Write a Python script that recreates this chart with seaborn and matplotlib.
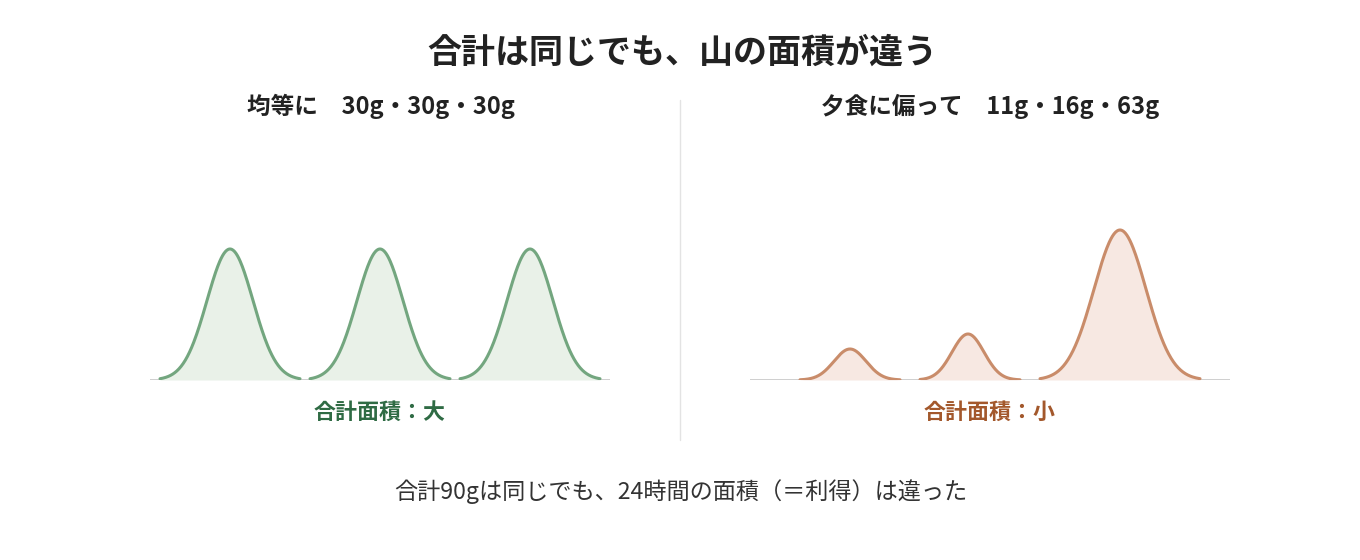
import numpy as np
import pandas as pd
import matplotlib
matplotlib.use("Agg")
import matplotlib.pyplot as plt
import seaborn as sns

sns.set_theme(style="white")
plt.rcParams['font.family'] = ['Noto Sans CJK JP', 'DejaVu Sans']

# data
left_grams = [30, 30, 30]
left_centers = [80, 230, 380]      # position within panel (px units)
left_heights = [131, 131, 131]
left_sigmas = [23, 23, 23]
left_spans = [(10, 150), (160, 300), (310, 450)]

right_grams = [11, 16, 63]
right_centers = [100, 218, 370]
right_heights = [31, 46, 150]
right_sigmas = [16, 16, 26]
right_spans = [(50, 150), (170, 270), (290, 450)]

W, H = 1360, 560
fig = plt.figure(figsize=(13.6, 5.6), dpi=100)

def panel(x0, width, centers, heights, sigmas, spans, lc, fc):
    ax = fig.add_axes([x0 / W, (H - 380) / H, width / W, 200 / H])
    for c, h, s, (a, b) in zip(centers, heights, sigmas, spans):
        x = np.linspace(a, b, 200)
        y = h * np.exp(-0.5 * ((x - c) / s) ** 2)
        df = pd.DataFrame({"x": x, "y": y})
        ax.fill_between(x, 0, y, color=fc, lw=0)
        sns.lineplot(data=df, x="x", y="y", ax=ax, color=lc, lw=2.2, sort=False)
    ax.axhline(0, color="#cccccc", lw=1.3, zorder=0)
    ax.set_xlim(0, width)
    ax.set_ylim(0, 200)
    ax.axis("off")
    return ax

panel(150, 460, left_centers, left_heights, left_sigmas, left_spans, "#73a67f", "#e9f1e8")
panel(750, 480, right_centers, right_heights, right_sigmas, right_spans, "#c98c6a", "#f7e8e2")

fig.add_artist(plt.Line2D([680 / W, 680 / W], [1 - 100 / H, 1 - 440 / H], color="#e3e3e3", lw=1))

fig.text(682 / W, 1 - 52 / H, "合計は同じでも、山の面積が違う", ha="center", va="center",
         fontsize=24.5, fontweight="bold", color="#222222")
fig.text(381 / W, 1 - 106 / H, "均等に　" + "g・".join(str(g) for g in left_grams) + "g",
         ha="center", va="center", fontsize=17, fontweight="bold", color="#222222")
fig.text(990 / W, 1 - 106 / H, "夕食に偏って　" + "g・".join(str(g) for g in right_grams) + "g",
         ha="center", va="center", fontsize=17, fontweight="bold", color="#222222")
fig.text(380 / W, 1 - 412 / H, "合計面積：大", ha="center", va="center",
         fontsize=15.8, fontweight="bold", color="#2f6b44")
fig.text(990 / W, 1 - 412 / H, "合計面積：小", ha="center", va="center",
         fontsize=15.8, fontweight="bold", color="#a3582c")
fig.text(681 / W, 1 - 492 / H, "合計90gは同じでも、24時間の面積（＝利得）は違った",
         ha="center", va="center", fontsize=16.7, color="#333333")

fig.savefig("out.png", dpi=100, facecolor="white")
